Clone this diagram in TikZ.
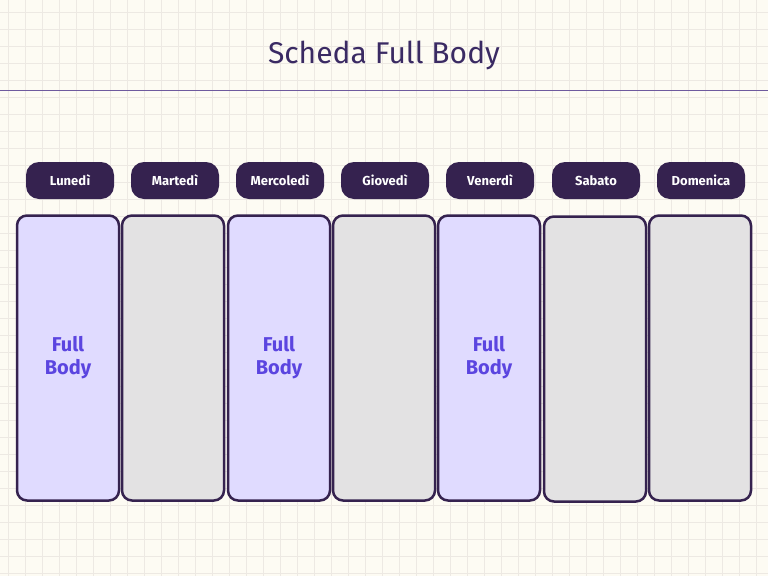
\documentclass[tikz,border=0pt]{standalone}
\usepackage{fontspec}
\setmainfont{Fira Sans}
\definecolor{bg}{HTML}{FDFBF3}
\definecolor{gridc}{HTML}{EDE9E3}
\definecolor{dark}{HTML}{35224F}
\definecolor{lav}{HTML}{E0DBFF}
\definecolor{gry}{HTML}{E3E2E3}
\definecolor{txt}{HTML}{5B45E0}
\definecolor{ttl}{HTML}{3A2A63}
\definecolor{rule}{HTML}{6E5A9E}
\begin{document}
\begin{tikzpicture}[x=1pt,y=-1pt,
 pill/.style={rounded corners=13pt,fill=dark,minimum width=88pt,minimum height=37pt,inner sep=0,text=white,font=\fontsize{13}{15}\selectfont\bfseries},
 col/.style={draw=dark,line width=2.5pt,rounded corners=10pt,minimum width=102pt,minimum height=285pt,inner sep=0},
 on/.style={col,fill=lav,text=txt,font=\fontsize{20}{23}\selectfont\bfseries,align=center},
 off/.style={col,fill=gry}]
\fill[bg] (0,0) rectangle (768,576);
\useasboundingbox (0,0) rectangle (768,576);
\foreach \i in {0,...,45} \draw[gridc,line width=0.6pt] (8+17*\i,0) -- (8+17*\i,576);
\foreach \i in {0,...,34} \draw[gridc,line width=0.6pt] (0,12+17*\i) -- (768,12+17*\i);
\node[text=ttl,font=\fontsize{30}{34}\selectfont] (title) at (384,55) {Scheda Full Body};
\coordinate (l1) at (0,90); \coordinate (l2) at (768,90);
\draw[rule,line width=1pt] (l1) -- (l2);
\foreach \n/\x/\d in {a/70/Lunedì,b/175/Martedì,c/280/Mercoledì,d/385/Giovedì,e/490/Venerdì,f/596/Sabato,g/701/Domenica}
  \node[pill] (p\n) at (\x,180.5) {\d};
\node[on] (ca) at (68,358) {Full\\Body};
\node[off] (cb) at (173,358) {};
\node[on] (cc) at (279,358) {Full\\Body};
\node[off] (cd) at (384,358) {};
\node[on] (ce) at (489,358) {Full\\Body};
\node[off] (cf) at (595,359) {};
\node[off] (cg) at (700,358) {};
\end{tikzpicture}
\end{document}
